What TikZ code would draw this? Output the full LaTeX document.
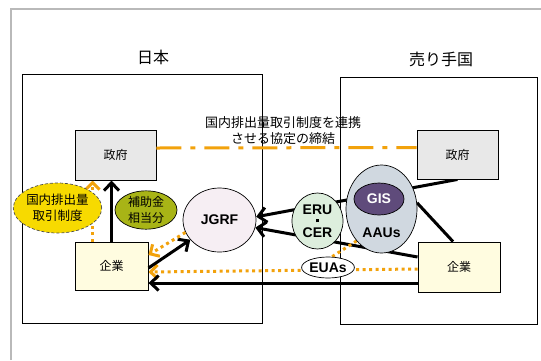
\documentclass[tikz,border=0pt]{standalone}
\usepackage{fontspec}
\setmainfont{Liberation Sans}
\newfontfamily\cjk{Noto Sans CJK JP}
\usetikzlibrary{arrows.meta,shapes.geometric}
\pgfdeclarelayer{back}
\pgfdeclarelayer{lines}
\pgfsetlayers{back,lines,main}
\definecolor{org}{HTML}{F2A20C}
\definecolor{govgray}{HTML}{E8E8E8}
\definecolor{comyel}{HTML}{FFFCE0}
\definecolor{seidoyel}{HTML}{F7DA00}
\definecolor{olive}{HTML}{A8B416}
\definecolor{jgrfpink}{HTML}{F6EEF3}
\definecolor{erugreen}{HTML}{DDEEDD}
\definecolor{aaugray}{HTML}{D0D8E0}
\definecolor{gispurple}{HTML}{5F4B7B}
\tikzset{
  frame/.style={draw=black, line width=0.9pt},
  govbox/.style={rectangle, draw=black, line width=0.9pt, fill=govgray, inner sep=0pt,
    font=\cjk\fontsize{12}{14}\selectfont},
  combox/.style={rectangle, draw=black, line width=0.9pt, fill=comyel, inner sep=0pt,
    font=\cjk\fontsize{12}{14}\selectfont},
  ell/.style={ellipse, draw=black, line width=0.7pt, inner sep=0pt},
  latin/.style={font=\bfseries\fontsize{14}{11.5}\selectfont},
  blk/.style={line width=3pt, black},
  blkarr/.style={blk, -{Straight Barb[length=8pt,width=15pt]}},
  odot/.style={org, line width=3pt, dash pattern=on 3pt off 3.5pt},
  odotarr/.style={odot, -{Straight Barb[length=7pt,width=14pt]}},
  agree/.style={org, line width=3pt, dash pattern=on 25pt off 9pt on 5pt off 9pt}
}
\begin{document}
\begin{tikzpicture}[x=1pt,y=-1pt]
\useasboundingbox (0,0) rectangle (541,360);
% outer frame and country frames
\begin{pgfonlayer}{back}
\draw[gray!55, line width=2pt] (11,360) -- (11,9) -- (541,9);
\draw[frame] (22,74) rectangle (262,323);
\draw[frame] (340,77) rectangle (537,324);
\end{pgfonlayer}
\node[font=\cjk\fontsize{16}{18}\selectfont] (tjp) at (153,57) {日本};
\node[font=\cjk\fontsize{16}{18}\selectfont] (tsel) at (441,59) {売り手国};
% boxes
\node[govbox, minimum width=81pt, minimum height=50pt] (jgov) at (115.5,155) {政府};
\node[combox, minimum width=73pt, minimum height=48pt] (jcom) at (111.5,266) {企業};
\node[govbox, minimum width=81pt, minimum height=49pt] (sgov) at (457.5,154.5) {政府};
\node[combox, minimum width=82pt, minimum height=50pt] (scom) at (459,267) {企業};
% ellipses
\node[ell, fill=aaugray, minimum width=71pt, minimum height=88pt] (aau) at (381.5,209) {};
\node[ell, fill=gispurple, minimum width=50pt, minimum height=32pt, text=white, latin] (gis) at (379,199) {GIS};
\node[latin] (aaut) at (381.5,233) {AAUs};
\node[ell, fill=erugreen, minimum width=51pt, minimum height=56pt, latin, align=center] (eru) at (317.5,221)
  {ERU\\\rule[3.5pt]{3pt}{3pt}\\CER};
\node[ell, fill=white, minimum width=45pt, minimum height=21pt, latin] (euas) at (328,267.5) {EUAs};
\node[ell, fill=jgrfpink, minimum width=73pt, minimum height=64pt, latin] (jgrf) at (219.5,220) {JGRF};
\node[ell, fill=seidoyel, draw=black!70, densely dashed, minimum width=69pt, minimum height=50pt,
  font=\cjk\fontsize{12.5}{16}\selectfont, align=center] (seido) at (57.5,208) {国内排出量\\取引制度};
\node[ell, fill=olive, minimum width=62pt, minimum height=36pt,
  font=\cjk\fontsize{12}{16}\selectfont, align=center] (hojo) at (146,210) {補助金\\相当分};
% agreement
\draw[agree] ([yshift=7pt]jgov.east) -- ([yshift=7pt]sgov.west);
\node[font=\cjk\fontsize{13}{16}\selectfont, align=center, inner sep=1pt] (agr) at (283,131)
  {国内排出量取引制度を連携\\させる協定の締結};
% connectors behind ellipses
\begin{pgfonlayer}{lines}
\draw[blkarr] (sgov.south) -- (jgrf.5);
\draw[blkarr] ([yshift=10pt]scom.west) -- (jgrf.348);
\draw[blk] (aau.10) -- ([xshift=-6pt]scom.north);
\draw[odotarr] ([yshift=-2pt]scom.west) -- ([yshift=-6pt]jcom.east);
\draw[odot] (aau.232) -- (euas.70);
\draw[odotarr] ([xshift=18pt]jcom.north west) -- ([xshift=18pt]jcom.north west |- jgov.south);
\end{pgfonlayer}
\draw[blkarr] ([yshift=-16pt]scom.west) -- ([yshift=-17pt]jcom.east);
\draw[blkarr] ([yshift=-2pt]jcom.east) -- (jgrf);
\draw[odotarr] (jgrf.200) -- ([yshift=11pt]jcom.east);
\draw[blkarr] (jcom.north) -- (jcom.north |- jgov.south);
\end{tikzpicture}
\end{document}
